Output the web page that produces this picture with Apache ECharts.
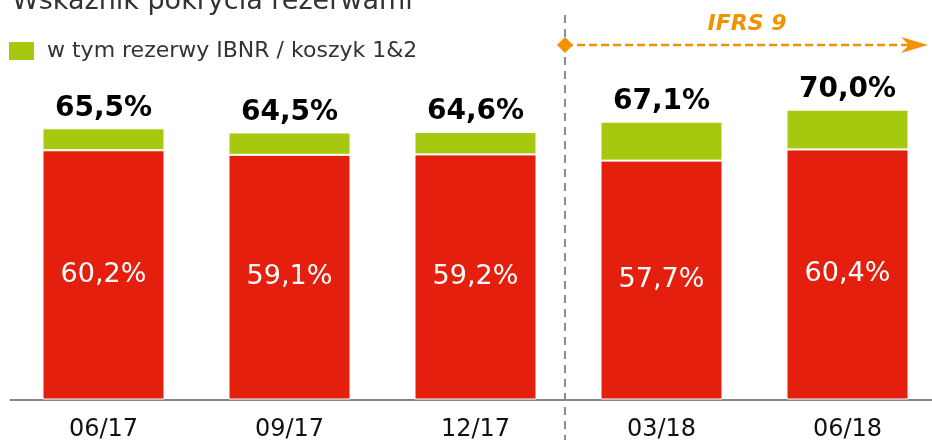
<!DOCTYPE html>
<html>
<head>
<meta charset="utf-8">
<script src="https://cdn.jsdelivr.net/npm/echarts@6/dist/echarts.min.js"></script>
<style>
  html, body { margin: 0; padding: 0; background: #fff; }
  #chart { width: 932px; height: 440px; }
</style>
</head>
<body>
<div id="chart"></div>
<script>
// values
const categories = ["06/17", "09/17", "12/17", "03/18", "06/18"];
const reserveValues = [60.2, 59.1, 59.2, 57.7, 60.4];   // red part
const totalValues = [65.5, 64.5, 64.6, 67.1, 70.0];     // label above bar
const ibnrValues = totalValues.map((t, i) => +(t - reserveValues[i]).toFixed(1)); // green part

const RED = "#e41f0d";
const GREEN = "#a6c80e";
const ORANGE = "#f39200";
const FONT = "DejaVu Sans";

const fmt = (v) => v.toFixed(1).replace(".", ",") + "%";

const chart = echarts.init(document.getElementById("chart"));

const option = {
  animation: false,
  textStyle: { fontFamily: FONT },
  title: {
    text: "Wskaźnik pokrycia rezerwami",
    left: 12,
    top: -12,
    padding: 0,
    textStyle: { fontFamily: FONT, fontSize: 27, fontWeight: "normal", color: "#333" },
  },
  legend: {
    data: ["w tym rezerwy IBNR / koszyk 1&2"],
    left: 7,
    top: 40,
    padding: 0,
    icon: "rect",
    itemWidth: 27,
    itemHeight: 20,
    textStyle: { fontFamily: FONT, fontSize: 22, color: "#333", padding: [0, 0, 0, 7] },
  },
  grid: {
    left: 10.5,
    width: 930,
    top: 68.3,
    height: 331.2,
    containLabel: false,
    outerBoundsMode: "none",
  },
  xAxis: {
    type: "category",
    data: categories,
    axisLine: { lineStyle: { color: "#858585", width: 2 } },
    axisTick: { show: false },
    axisLabel: { fontFamily: FONT, fontSize: 24, color: "#111", margin: 18 },
  },
  yAxis: {
    type: "value",
    min: 0,
    max: 80,
    show: false,
    splitLine: { show: false },
  },
  series: [
    {
      name: "rezerwy",
      type: "bar",
      stack: "total",
      barWidth: 122,
      data: reserveValues,
      itemStyle: { color: RED, borderColor: "#fff", borderWidth: 1 },
      label: {
        show: true,
        position: "inside",
        color: "#fff",
        fontFamily: FONT,
        fontSize: 27,
        formatter: (p) => fmt(p.value),
      },
    },
    {
      name: "w tym rezerwy IBNR / koszyk 1&2",
      type: "bar",
      stack: "total",
      barWidth: 122,
      data: ibnrValues,
      itemStyle: { color: GREEN, borderColor: "#fff", borderWidth: 1 },
      label: {
        show: true,
        position: "top",
        distance: 6,
        color: "#000",
        fontFamily: FONT,
        fontWeight: "bold",
        fontSize: 28,
        formatter: (p) => fmt(totalValues[p.dataIndex]),
      },
    },
  ],
  graphic: [
    {
      type: "line",
      shape: { x1: 565, y1: 15, x2: 565, y2: 440 },
      style: { stroke: "#8c8c8c", lineWidth: 2, lineDash: [8, 6] },
      z: 1,
    },
    {
      type: "line",
      shape: { x1: 565, y1: 45, x2: 912, y2: 45 },
      style: { stroke: ORANGE, lineWidth: 2.5, lineDash: [8, 4] },
      z: 2,
    },
    {
      type: "polygon",
      shape: { points: [[565, 37], [573, 45], [565, 53], [557, 45]] },
      style: { fill: ORANGE },
      z: 3,
    },
    {
      type: "polygon",
      shape: { points: [[928, 45], [901, 37], [909, 45], [901, 53]] },
      style: { fill: ORANGE },
      z: 3,
    },
    {
      type: "text",
      x: 747,
      y: 24,
      style: {
        text: "IFRS 9",
        fill: ORANGE,
        font: "italic bold 22px 'DejaVu Sans'",
        align: "center",
        verticalAlign: "middle",
      },
      z: 3,
    },
  ],
};

chart.setOption(option);
</script>
</body>
</html>
